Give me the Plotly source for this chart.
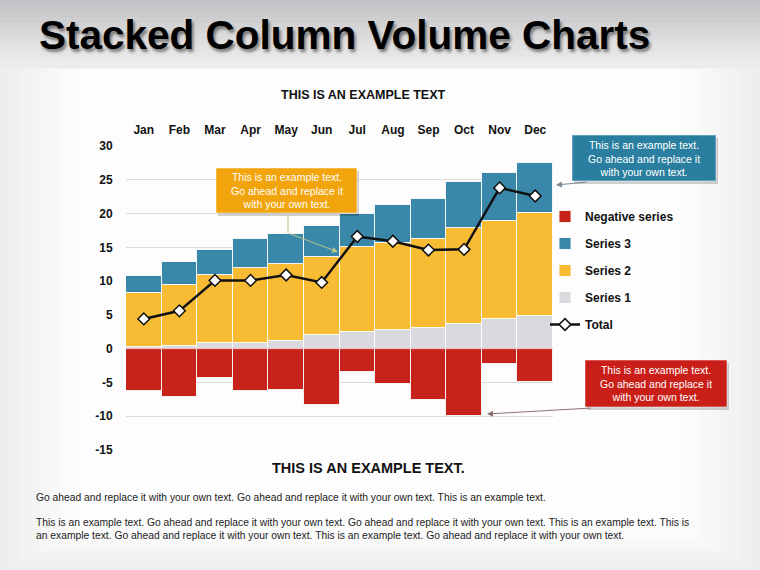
import plotly.graph_objects as go

months = ["Jan", "Feb", "Mar", "Apr", "May", "Jun", "Jul", "Aug", "Sep", "Oct", "Nov", "Dec"]
series1 = [0.2, 0.4, 0.8, 0.9, 1.2, 2.0, 2.5, 2.7, 3.0, 3.7, 4.4, 4.9]
series2 = [8.1, 9.0, 10.1, 11.0, 11.3, 11.6, 12.5, 13.0, 13.3, 14.1, 14.5, 15.2]
series3 = [2.4, 3.5, 3.7, 4.4, 4.5, 4.6, 5.0, 5.6, 5.9, 6.8, 7.1, 7.4]
negative = [-6.3, -7.2, -4.4, -6.2, -6.1, -8.3, -3.4, -5.3, -7.6, -10.0, -2.2, -4.9]
total = [4.4, 5.6, 10.1, 10.1, 10.9, 9.8, 16.6, 15.9, 14.6, 14.7, 23.8, 22.6]
y_ticks = [-15, -10, -5, 0, 5, 10, 15, 20, 25, 30]

W, H = 760, 570
L, R, T, B = 126, 207, 146, 120
PW, PH = W - L - R, H - T - B


def px(x):
    return (x - L) / PW


def py(y):
    return (H - B - y) / PH


FONT = "Liberation Sans, Arial, sans-serif"
sep = dict(color="rgba(255,255,255,0.85)", width=1)

fig = go.Figure()
fig.add_trace(go.Bar(x=months, y=series1, name="Series 1", marker=dict(color="#dadade", line=sep),
                     legendrank=4, legendgroup="s1"))
fig.add_trace(go.Bar(x=months, y=series2, name="Series 2", marker=dict(color="#f8bb34", line=sep),
                     legendrank=3, legendgroup="s2"))
fig.add_trace(go.Bar(x=months, y=series3, name="Series 3", marker=dict(color="#3a88a9", line=sep),
                     legendrank=2, legendgroup="s3"))
fig.add_trace(go.Bar(x=months, y=negative, name="Negative series", marker=dict(color="#c8231a", line=sep),
                     legendrank=1, legendgroup="neg"))
fig.add_trace(go.Scatter(x=months, y=total, name="Total", mode="lines+markers",
                         line=dict(color="#111111", width=2.5),
                         marker=dict(symbol="diamond", size=9, color="white",
                                     line=dict(color="#111111", width=1.5)),
                         legendrank=5, legendgroup="tot"))

shapes = []
# background soft vignette
shapes.append(dict(type="rect", xref="paper", yref="paper", x0=px(0), x1=px(W), y0=py(H), y1=py(0),
                   fillcolor="#eeeef0", line_width=0, layer="below"))
vig = ["#f0f0f1", "#f2f2f3", "#f4f4f5", "#f6f6f7", "#f8f8f8", "#fafafa", "#fbfbfb", "#fdfdfd"]
for i, c in enumerate(vig):
    d = 10 * (i + 1)
    shapes.append(dict(type="rect", xref="paper", yref="paper", x0=px(d), x1=px(W - d),
                       y0=py(H - d * 0.5), y1=py(68), fillcolor=c, line_width=0, layer="below"))
# header band gradient
hdr = ["#c4c4c8", "#c8c8cb", "#cbcbce", "#cfcfd2", "#d3d3d5", "#d7d7d9", "#dbdbdd", "#dfdfe1",
       "#e3e3e4", "#e6e6e7", "#e9e9ea", "#ececed"]
step = 68 / len(hdr)
for i, c in enumerate(hdr):
    shapes.append(dict(type="rect", xref="paper", yref="paper", x0=px(0), x1=px(W),
                       y0=py(step * (i + 1) + 0.5), y1=py(step * i), fillcolor=c, line_width=0, layer="below"))

# callout boxes
boxes = [
    (216, 168, 357, 213, "#f2a40c"),
    (572, 135, 716, 181, "#2a7fa0"),
    (585, 360, 727, 407, "#c91f18"),
]
for x0, y0, x1, y1, c in boxes:
    shapes.append(dict(type="rect", xref="paper", yref="paper", x0=px(x0 + 2), x1=px(x1 + 2),
                       y0=py(y1 + 3), y1=py(y0 + 3), fillcolor="rgba(0,0,0,0.18)", line_width=0))
    shapes.append(dict(type="rect", xref="paper", yref="paper", x0=px(x0), x1=px(x1),
                       y0=py(y1), y1=py(y0), fillcolor=c, line=dict(color="rgba(255,255,255,0.5)", width=1)))
# connector line for orange callout
shapes.append(dict(type="line", xref="paper", yref="paper", x0=px(288), x1=px(288), y0=py(214), y1=py(233),
                   line=dict(color="#b9c48a", width=1)))
# thin zero line
shapes.append(dict(type="line", xref="paper", yref="y", x0=0, x1=1, y0=0, y1=0,
                   line=dict(color="rgba(240,170,160,0.8)", width=1)))

ann = []
callout_text = "This is an example text.<br>Go ahead and replace it<br>with your own text."
for x0, y0, x1, y1, c in boxes:
    ann.append(dict(xref="paper", yref="paper", x=px((x0 + x1) / 2), y=py((y0 + y1) / 2),
                    text=callout_text, showarrow=False, font=dict(family=FONT, size=10.5, color="white"),
                    xanchor="center", yanchor="middle"))
# arrows
arrows = [
    (338, 252, 288, 233, "#b9c48a"),
    (556, 185, 588, 182, "#7a8a96"),
    (487, 414, 592, 408, "#8a7070"),
]
for x0, y0, x1, y1, c in arrows:
    ann.append(dict(xref="paper", yref="paper", x=px(x0), y=py(y0), ax=x1 - x0, ay=y1 - y0,
                    axref="pixel", ayref="pixel", showarrow=True, arrowhead=2, arrowsize=1.2,
                    arrowwidth=1, arrowcolor=c, text=""))

# title with shadow
title = "Stacked Column Volume Charts"
ann.append(dict(xref="paper", yref="paper", x=px(37), y=py(35), text=title, showarrow=False,
                xanchor="left", yanchor="middle",
                font=dict(family=FONT, size=40.5, color="#000000", weight="bold",
                          shadow="2px 3px 3px rgba(0,0,0,0.45)")))
ann.append(dict(xref="paper", yref="paper", x=px(363), y=py(95), text="<b>THIS IS AN EXAMPLE TEXT</b>",
                showarrow=False, xanchor="center", yanchor="middle", font=dict(family=FONT, size=12.5, color="#111")))
ann.append(dict(xref="paper", yref="paper", x=px(368), y=py(468), text="<b>THIS IS AN EXAMPLE TEXT.</b>",
                showarrow=False, xanchor="center", yanchor="middle", font=dict(family=FONT, size=14.5, color="#111")))
body1 = "Go ahead and replace it with your own text. Go ahead and replace it with your own text. This is an example text."
body2 = ("This is an example text. Go ahead and replace it with your own text. Go ahead and replace it with your own text. "
         "This is an example text. This is<br>an example text. Go ahead and replace it with your own text. "
         "This is an example text. Go ahead and replace it with your own text.")
ann.append(dict(xref="paper", yref="paper", x=px(34), y=py(497), text=body1, showarrow=False,
                xanchor="left", yanchor="middle", font=dict(family=FONT, size=10.3, color="#222")))
ann.append(dict(xref="paper", yref="paper", x=px(34), y=py(528.5), text=body2, showarrow=False, align="left",
                xanchor="left", yanchor="middle", font=dict(family=FONT, size=10.3, color="#222")))

fig.update_layout(
    width=W, height=H,
    margin=dict(l=L, r=R, t=T, b=B, autoexpand=False),
    paper_bgcolor="#eeeef0",
    plot_bgcolor="rgba(0,0,0,0)",
    barmode="relative",
    bargap=0,
    showlegend=True,
    legend=dict(x=px(545), y=py(202), xanchor="left", yanchor="top", traceorder="grouped",
                tracegroupgap=8, bgcolor="rgba(0,0,0,0)",
                font=dict(family=FONT, size=12, color="#111", weight="bold"), itemwidth=30),
    xaxis=dict(side="top", type="category", range=[-0.5, len(months) - 0.5],
               showgrid=False, zeroline=False, showline=False,
               ticks="outside", ticklen=6, tickcolor="rgba(0,0,0,0)", automargin=False,
               tickfont=dict(family=FONT, size=12, color="#111"),
               tickvals=months, ticktext=["<b>%s</b>" % m for m in months]),
    yaxis=dict(range=[-15, 30], tickvals=y_ticks, ticktext=["<b>%d</b>" % v for v in y_ticks],
               showgrid=True, gridcolor="#dcdcdc", gridwidth=1, zeroline=False, showline=False,
               ticks="outside", ticklen=10, tickcolor="rgba(0,0,0,0)", automargin=False,
               tickfont=dict(family=FONT, size=12, color="#111")),
    shapes=shapes,
    annotations=ann,
    font=dict(family=FONT),
)

fig.write_html("out.html", config={"displayModeBar": False},
               post_script="document.body.style.margin='0';document.body.style.padding='0';")
